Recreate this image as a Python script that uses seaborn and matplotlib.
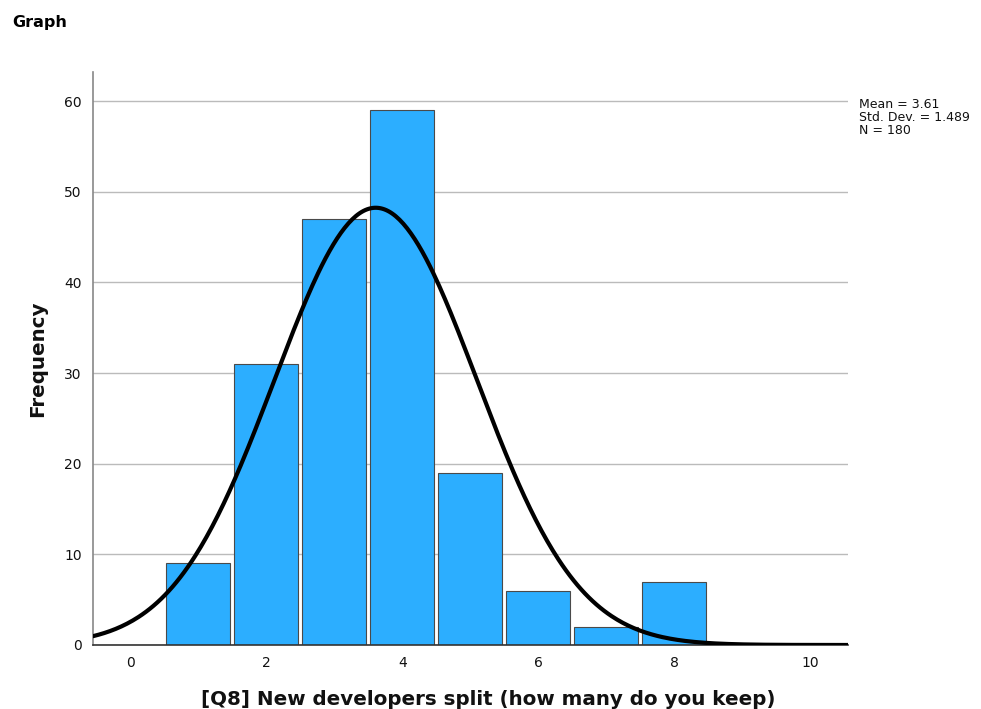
import numpy as np
import pandas as pd
import matplotlib
matplotlib.use("Agg")
import matplotlib.pyplot as plt
import seaborn as sns

values = [1, 2, 3, 4, 5, 6, 7, 8]
counts = [9, 31, 47, 59, 19, 6, 2, 7]
mean_val = 3.61
sd_val = 1.489
n_val = 180
x_ticks = [0, 2, 4, 6, 8, 10]
y_ticks = [0, 10, 20, 30, 40, 50, 60]

sns.set_theme(style="white")
plt.rcParams['font.family'] = ['DejaVu Sans']

fig = plt.figure(figsize=(9.81, 7.09), dpi=100)
ax = fig.add_axes([93/981, 64/709, (848-93)/981, (645-72)/709])

df = pd.DataFrame({"value": values, "count": counts})
sns.barplot(data=df, x="value", y="count", native_scale=True, width=0.94,
            color="#2CAEFF", saturation=1, edgecolor="#4a4a4a", linewidth=0.8,
            ax=ax, zorder=2)

xs = np.linspace(-0.55, 10.56, 400)
ys = n_val * 1.0 / (sd_val * np.sqrt(2 * np.pi)) * np.exp(-0.5 * ((xs - mean_val) / sd_val) ** 2)
sns.lineplot(x=xs, y=ys, color="black", linewidth=3, ax=ax, zorder=3)

ax.set_xlim(-0.55, 10.56)
ax.set_ylim(0, 63.2)
ax.set_xticks(x_ticks)
ax.set_yticks(y_ticks)
ax.tick_params(axis="both", length=0, labelsize=10, colors="#111111", pad=8)
ax.yaxis.grid(True, color="#bbbbbb", linewidth=1, zorder=0)
ax.set_axisbelow(True)
for s in ["top", "right"]:
    ax.spines[s].set_visible(False)
ax.spines["left"].set_color("#888888")
ax.spines["left"].set_linewidth(1.2)
ax.spines["bottom"].set_color("#333333")
ax.spines["bottom"].set_linewidth(1.2)

ax.set_xlabel("[Q8] New developers split (how many do you keep)", fontsize=14.3,
              fontweight="bold", color="#111111")
ax.xaxis.set_label_coords(0.523, -0.078)
ax.set_ylabel("Frequency", fontsize=14.3, fontweight="bold", color="#111111", labelpad=12)

fig.text(12/981, 1 - 22/709, "Graph", fontsize=11.5, fontweight="bold", va="center", ha="left",
         color="black")
fig.text(859/981, 1 - 98/709, f"Mean = {mean_val}\nStd. Dev. = {sd_val}\nN = {n_val}",
         fontsize=9, va="top", ha="left", linespacing=1.0, color="#111111")

fig.savefig("out.png", dpi=100)
